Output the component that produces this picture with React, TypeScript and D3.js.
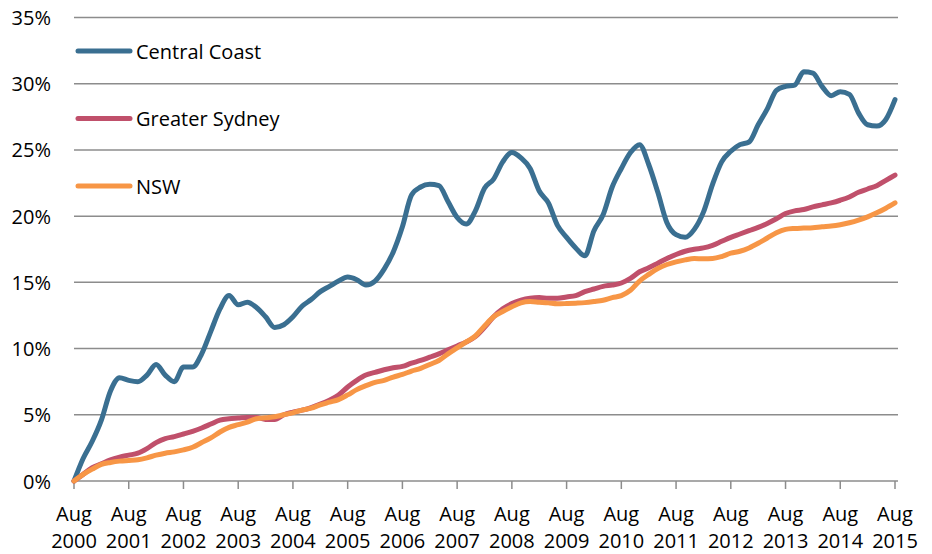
import { useEffect, useRef } from 'react';
import * as d3 from 'd3';

// Months since Aug 2000, sampled every two months (0..180)
const months = d3.range(0, 181, 2);

const centralCoast = [
  0, 1.7, 3.0, 4.6, 6.8, 7.8, 7.6, 7.5, 8.0, 8.8,
  8.0, 7.5, 8.6, 8.6, 9.6, 11.3, 13.0, 14.0, 13.3, 13.5,
  13.1, 12.4, 11.6, 11.8, 12.4, 13.2, 13.7, 14.3, 14.7, 15.1,
  15.4, 15.2, 14.8, 15.1, 16.0, 17.3, 19.2, 21.6, 22.2, 22.4,
  22.3, 21.1, 19.9, 19.4, 20.4, 22.1, 22.8, 24.1, 24.8, 24.4,
  23.6, 21.9, 21.0, 19.3, 18.4, 17.6, 17.0, 18.9, 20.1, 22.2,
  23.6, 24.8, 25.4, 23.9, 21.8, 19.5, 18.6, 18.4, 19.0, 20.3,
  22.4, 24.1, 24.9, 25.4, 25.6, 26.9, 28.1, 29.5, 29.8, 29.9,
  30.9, 30.8, 29.8, 29.1, 29.4, 29.2, 27.8, 26.9, 26.8, 27.3,
  28.8,
];

const greaterSydney = [
  0, 0.5, 1.0, 1.3, 1.6, 1.8, 1.95, 2.1, 2.45, 2.9,
  3.2, 3.35, 3.55, 3.75, 4.0, 4.3, 4.6, 4.7, 4.75, 4.8,
  4.8, 4.65, 4.65, 5.0, 5.2, 5.35, 5.55, 5.8, 6.1, 6.5,
  7.1, 7.6, 8.0, 8.2, 8.4, 8.55, 8.65, 8.9, 9.1, 9.35,
  9.6, 9.9, 10.2, 10.5, 10.9, 11.6, 12.4, 13.0, 13.4, 13.65,
  13.8, 13.85, 13.8, 13.8, 13.9, 14.0, 14.3, 14.5, 14.7, 14.8,
  14.95, 15.3, 15.8, 16.1, 16.45, 16.8, 17.1, 17.35, 17.5, 17.6,
  17.8, 18.1, 18.4, 18.65, 18.9, 19.15, 19.45, 19.8, 20.2, 20.4,
  20.5, 20.7, 20.85, 21.0, 21.2, 21.45, 21.8, 22.05, 22.3, 22.7,
  23.1,
];

const nsw = [
  0, 0.5, 0.9, 1.25, 1.4, 1.5, 1.55, 1.6, 1.75, 1.95,
  2.1, 2.2, 2.35, 2.55, 2.9, 3.25, 3.7, 4.05, 4.25, 4.45,
  4.7, 4.78, 4.85, 5.0, 5.15, 5.35, 5.5, 5.75, 5.95, 6.15,
  6.5, 6.9, 7.2, 7.45, 7.6, 7.85, 8.05, 8.3, 8.5, 8.8,
  9.1, 9.6, 10.05, 10.5, 10.95, 11.7, 12.4, 12.8, 13.15, 13.45,
  13.55, 13.5, 13.45, 13.38, 13.4, 13.43, 13.47, 13.55, 13.65, 13.85,
  14.0, 14.4, 15.1, 15.6, 16.05, 16.35, 16.55, 16.7, 16.8, 16.78,
  16.8, 16.95, 17.2, 17.35, 17.6, 17.95, 18.35, 18.75, 19.0, 19.07,
  19.1, 19.13, 19.2, 19.25, 19.35, 19.5, 19.7, 19.95, 20.25, 20.6,
  21.0,
];

const seriesNames = ['Central Coast', 'Greater Sydney', 'NSW'];
const seriesColors = ['#3a6f91', '#c0506b', '#f79646'];

const yTicks = [0, 5, 10, 15, 20, 25, 30, 35];
const tickYears = ['2000', '2001', '2002', '2003', '2004', '2005', '2006', '2007',
  '2008', '2009', '2010', '2011', '2012', '2013', '2014', '2015'];

const width = 932;
const height = 554;
const font = '"Open Sans", "Noto Sans", sans-serif';

export default function App() {
  const svgRef = useRef<SVGSVGElement>(null);

  useEffect(() => {
    if (!svgRef.current) return;
    const svg = d3.select(svgRef.current);
    svg.selectAll('*').remove();

    const x = d3.scaleLinear().domain([0, 180]).range([74, 895]);
    const y = d3.scaleLinear().domain([0, 35]).range([481, 17.5]);

    // gridlines
    svg.append('g')
      .selectAll('line')
      .data(yTicks)
      .enter().append('line')
      .attr('x1', 74)
      .attr('x2', 898)
      .attr('y1', d => y(d))
      .attr('y2', d => y(d))
      .attr('stroke', '#8c8c8c')
      .attr('stroke-width', 1.5);

    // y labels
    svg.append('g')
      .selectAll('text')
      .data(yTicks)
      .enter().append('text')
      .attr('x', 51)
      .attr('y', d => y(d) + 7.5)
      .attr('text-anchor', 'end')
      .attr('font-family', font)
      .attr('font-size', 20)
      .attr('fill', '#000')
      .text(d => `${d}%`);

    // x ticks + labels
    const xt = svg.append('g')
      .selectAll('g')
      .data(tickYears)
      .enter().append('g')
      .attr('transform', (d, i) => `translate(${x(i * 12)},0)`);

    xt.append('line')
      .attr('y1', y(0))
      .attr('y2', y(0) + 8)
      .attr('stroke', '#8c8c8c')
      .attr('stroke-width', 1.5);

    xt.append('text')
      .attr('y', 521)
      .attr('text-anchor', 'middle')
      .attr('font-family', font)
      .attr('font-size', 20)
      .text('Aug');

    xt.append('text')
      .attr('y', 548)
      .attr('text-anchor', 'middle')
      .attr('font-family', font)
      .attr('font-size', 20)
      .text(d => d);

    // lines
    const line = d3.line<number>()
      .x((d, i) => x(months[i]))
      .y(d => y(d))
      .curve(d3.curveMonotoneX);

    [centralCoast, greaterSydney, nsw].forEach((values, k) => {
      svg.append('path')
        .datum(values)
        .attr('fill', 'none')
        .attr('stroke', seriesColors[k])
        .attr('stroke-width', 5)
        .attr('stroke-linejoin', 'round')
        .attr('stroke-linecap', 'round')
        .attr('d', line);
    });

    // legend
    const legend = svg.append('g')
      .selectAll('g')
      .data(seriesNames)
      .enter().append('g')
      .attr('transform', (d, i) => `translate(0,${51 + i * 67.5})`);

    legend.append('line')
      .attr('x1', 78)
      .attr('x2', 130)
      .attr('stroke', (d, i) => seriesColors[i])
      .attr('stroke-width', 5)
      .attr('stroke-linecap', 'round');

    legend.append('text')
      .attr('x', 136)
      .attr('y', 7.5)
      .attr('font-family', font)
      .attr('font-size', 20)
      .text(d => d);
  }, []);

  return (
    <svg
      ref={svgRef}
      width={width}
      height={height}
      style={{ position: 'absolute', left: 0, top: 0, background: '#fff' }}
    />
  );
}
